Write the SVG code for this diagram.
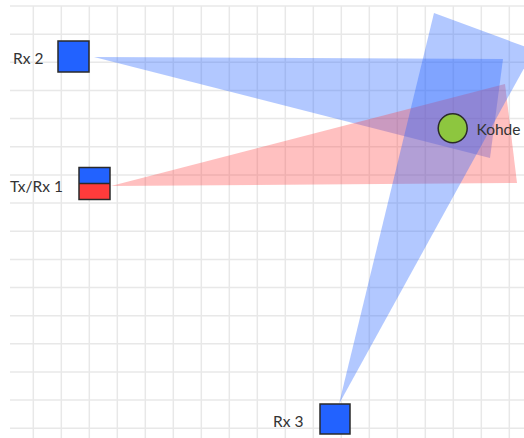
<svg xmlns="http://www.w3.org/2000/svg" width="524" height="438" viewBox="0 0 524 438">
  <style>
    .grid line { stroke: #e8e8e8; stroke-width: 1.5; }
    .beam-blue { fill: #2262ff; fill-opacity: 0.35; }
    .beam-red { fill: #ff3b3b; fill-opacity: 0.32; }
    .node { stroke: #2a2a2a; stroke-width: 1.5; }
    .blue { fill: #2262ff; }
    .red { fill: #ff3b3b; }
    .label { font-family: Lato, "Liberation Sans", sans-serif; font-size: 15.5px; fill: #333333; }
  </style>
  <rect width="524" height="438" fill="#ffffff"/>
  <g class="grid">
    <line x1="33.3" y1="6" x2="33.3" y2="438"/>
    <line x1="61.3" y1="6" x2="61.3" y2="438"/>
    <line x1="89.3" y1="6" x2="89.3" y2="438"/>
    <line x1="117.3" y1="6" x2="117.3" y2="438"/>
    <line x1="145.3" y1="6" x2="145.3" y2="438"/>
    <line x1="173.3" y1="6" x2="173.3" y2="438"/>
    <line x1="201.3" y1="6" x2="201.3" y2="438"/>
    <line x1="229.3" y1="6" x2="229.3" y2="438"/>
    <line x1="257.3" y1="6" x2="257.3" y2="438"/>
    <line x1="285.3" y1="6" x2="285.3" y2="438"/>
    <line x1="313.3" y1="6" x2="313.3" y2="438"/>
    <line x1="341.3" y1="6" x2="341.3" y2="438"/>
    <line x1="369.3" y1="6" x2="369.3" y2="438"/>
    <line x1="397.3" y1="6" x2="397.3" y2="438"/>
    <line x1="425.3" y1="6" x2="425.3" y2="438"/>
    <line x1="453.3" y1="6" x2="453.3" y2="438"/>
    <line x1="481.3" y1="6" x2="481.3" y2="438"/>
    <line x1="509.3" y1="6" x2="509.3" y2="438"/>
    <line x1="10" y1="6" x2="524" y2="6"/>
    <line x1="10" y1="34.2" x2="524" y2="34.2"/>
    <line x1="10" y1="62.3" x2="524" y2="62.3"/>
    <line x1="10" y1="90.5" x2="524" y2="90.5"/>
    <line x1="10" y1="118.6" x2="524" y2="118.6"/>
    <line x1="10" y1="146.8" x2="524" y2="146.8"/>
    <line x1="10" y1="174.9" x2="524" y2="174.9"/>
    <line x1="10" y1="203.1" x2="524" y2="203.1"/>
    <line x1="10" y1="231.2" x2="524" y2="231.2"/>
    <line x1="10" y1="259.4" x2="524" y2="259.4"/>
    <line x1="10" y1="287.5" x2="524" y2="287.5"/>
    <line x1="10" y1="315.7" x2="524" y2="315.7"/>
    <line x1="10" y1="343.8" x2="524" y2="343.8"/>
    <line x1="10" y1="372" x2="524" y2="372"/>
    <line x1="10" y1="400.1" x2="524" y2="400.1"/>
    <line x1="10" y1="428.3" x2="524" y2="428.3"/>
  </g>
  <g id="connectors">
    <polygon id="beam-rx2" class="beam-blue" points="94,57 503,59 490,158"/>
    <polygon id="beam-txrx1" class="beam-red" points="111,186 505,84 517,183"/>
    <polygon id="beam-rx3" class="beam-blue" points="339,404 434,13 534,50"/>
  </g>
  <g id="rx2">
    <rect class="node blue" x="58" y="41" width="31" height="31"/>
    <text class="label" x="13" y="64">Rx 2</text>
  </g>
  <g id="txrx1">
    <rect class="blue" x="79" y="167.5" width="31" height="16"/>
    <rect class="red" x="79" y="183.5" width="31" height="16"/>
    <rect class="node" fill="none" x="79" y="167.5" width="31" height="32"/>
    <line class="node" x1="79" y1="183.5" x2="110" y2="183.5"/>
    <text class="label" x="10" y="192">Tx/Rx 1</text>
  </g>
  <g id="rx3">
    <rect class="node blue" x="320" y="404" width="30" height="30"/>
    <text class="label" x="273" y="426.5">Rx 3</text>
  </g>
  <g id="kohde">
    <circle class="node" cx="452.7" cy="128.3" r="14.5" fill="#8dc63f"/>
    <text class="label" x="476.5" y="135">Kohde</text>
  </g>
</svg>
